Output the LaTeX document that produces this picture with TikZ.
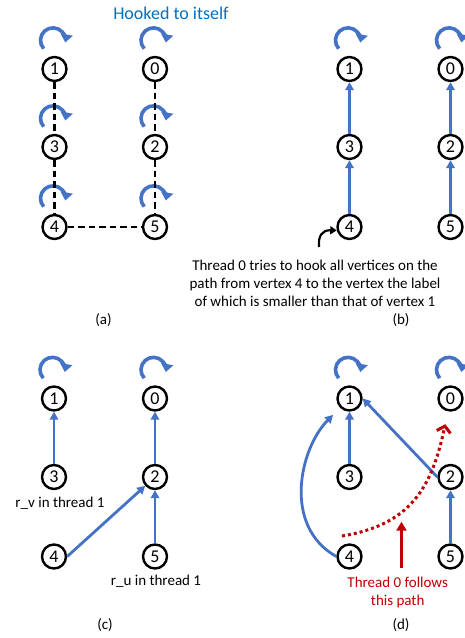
\documentclass[tikz,border=0pt]{standalone}
\usepackage{fontspec}
\setmainfont{Carlito}
\usetikzlibrary{arrows.meta}
\definecolor{ublue}{HTML}{4472C4}
\definecolor{tblue}{HTML}{0070C0}
\definecolor{dred}{HTML}{C00000}
\newcommand\hookloop[1]{\draw[loopst] ([shift={(-10.8,20.3)}]#1.center) arc[start angle=222,end angle=-10,radius=12.5];}
\begin{document}
\begin{tikzpicture}[x=1pt,y=1pt,
  vtx/.style={circle,draw=black,line width=2.4pt,minimum size=24pt,inner sep=0pt,font=\fontsize{18}{18}\selectfont},
  barrow/.style={draw=ublue,line width=2.8pt,-{Triangle[length=8pt,width=8.5pt]}},
  dashedge/.style={draw=black,line width=2.8pt,dash pattern=on 6.5pt off 4pt},
  loopst/.style={draw=ublue,line width=3.6pt,-{Triangle[length=8pt,width=12pt]}},
  lbl/.style={font=\fontsize{15}{18.3}\selectfont,align=center,inner sep=0pt},
  reddot/.style={draw=dred,line width=3pt,dash pattern=on 3pt off 3pt,-{Straight Barb[length=6pt,width=14pt,line width=3pt]}},
  redarrow/.style={draw=dred,line width=3pt,-{Triangle[length=9pt,width=10pt]}},
  curvearrow/.style={draw=black,line width=2.2pt,-{Triangle[length=6.5pt,width=8pt]}},
]
\useasboundingbox (0,0) rectangle (464,638);

% title
\node[font=\fontsize{18}{18}\selectfont,text=tblue,inner sep=0pt] (title) at (171,625) {Hooked to itself};

% ---------- panel (a)
\node[vtx] (a1) at (54.5,569) {1};
\node[vtx] (a0) at (155,569) {0};
\node[vtx] (a3) at (54.5,491) {3};
\node[vtx] (a2) at (155,491) {2};
\node[vtx] (a4) at (54.5,411) {4};
\node[vtx] (a5) at (155,411) {5};
\hookloop{a1}\hookloop{a0}\hookloop{a3}\hookloop{a2}\hookloop{a4}\hookloop{a5}
\draw[dashedge] (a1) -- (a3);
\draw[dashedge] (a3) -- (a4);
\draw[dashedge] (a0) -- (a2);
\draw[dashedge] (a2) -- (a5);
\draw[dashedge] (a4) -- (a5);
\node[lbl] (la) at (103.5,318) {(a)};

% ---------- panel (b)
\node[vtx] (b1) at (349.5,569) {1};
\node[vtx] (b0) at (450.5,569) {0};
\node[vtx] (b3) at (349.5,491) {3};
\node[vtx] (b2) at (450.5,491) {2};
\node[vtx] (b4) at (349.5,411) {4};
\node[vtx] (b5) at (450.5,411) {5};
\hookloop{b1}\hookloop{b0}
\draw[barrow] (b4) -- (b3);
\draw[barrow] (b3) -- (b1);
\draw[barrow] (b5) -- (b2);
\draw[barrow] (b2) -- (b0);
\node[lbl] (btext) at (315,354.5) {Thread 0 tries to hook all vertices on the\\path from vertex 4 to the vertex the label\\of which is smaller than that of vertex 1};
\coordinate (btail) at (319,391);
\draw[curvearrow] (btail) .. controls (318,402) and (322,408) .. (b4.195);
\node[lbl] (lb) at (401,318) {(b)};

% ---------- panel (c)
\node[vtx] (c1) at (54,239.5) {1};
\node[vtx] (c0) at (155,239.5) {0};
\node[vtx] (c3) at (54,161) {3};
\node[vtx] (c2) at (155,161) {2};
\node[vtx] (c4) at (54,81.5) {4};
\node[vtx] (c5) at (155,81.5) {5};
\hookloop{c1}\hookloop{c0}
\draw[barrow] (c3) -- (c1);
\draw[barrow] (c2) -- (c0);
\draw[barrow] (c4.east) -- (c2);
\draw[barrow] (c5) -- (c2);
\node[lbl] (rv) at (60,135) {r\_v in thread 1};
\node[lbl] (ru) at (156,56.3) {r\_u in thread 1};
\node[lbl] (lc) at (105,13) {(c)};

% ---------- panel (d)
\node[vtx] (d1) at (349.5,239.5) {1};
\node[vtx] (d0) at (450.5,239.5) {0};
\node[vtx] (d3) at (349.5,161) {3};
\node[vtx] (d2) at (450.5,161) {2};
\node[vtx] (d4) at (349.5,81.5) {4};
\node[vtx] (d5) at (450.5,81.5) {5};
\hookloop{d1}\hookloop{d0}
\draw[barrow] (d3) -- (d1);
\draw[barrow] (d2.west) -- (d1.east);
\draw[barrow] (d5) -- (d2);
\draw[barrow, shorten >=10pt] (d4.west) .. controls (282,112) and (300,190) .. (d1);
\coordinate (rstart) at (342,102);
\draw[reddot, shorten >=13pt] (rstart) .. controls (410,113) and (432,150) .. (d0);
\node[lbl,text=dred] (dtext) at (397.7,45.8) {Thread 0 follows\\this path};
\coordinate (rtip) at (401.5,116.3);
\draw[redarrow] ([yshift=8pt]dtext.north -| rtip) -- (rtip);
\node[lbl] (ld) at (401,13) {(d)};
\end{tikzpicture}
\end{document}
